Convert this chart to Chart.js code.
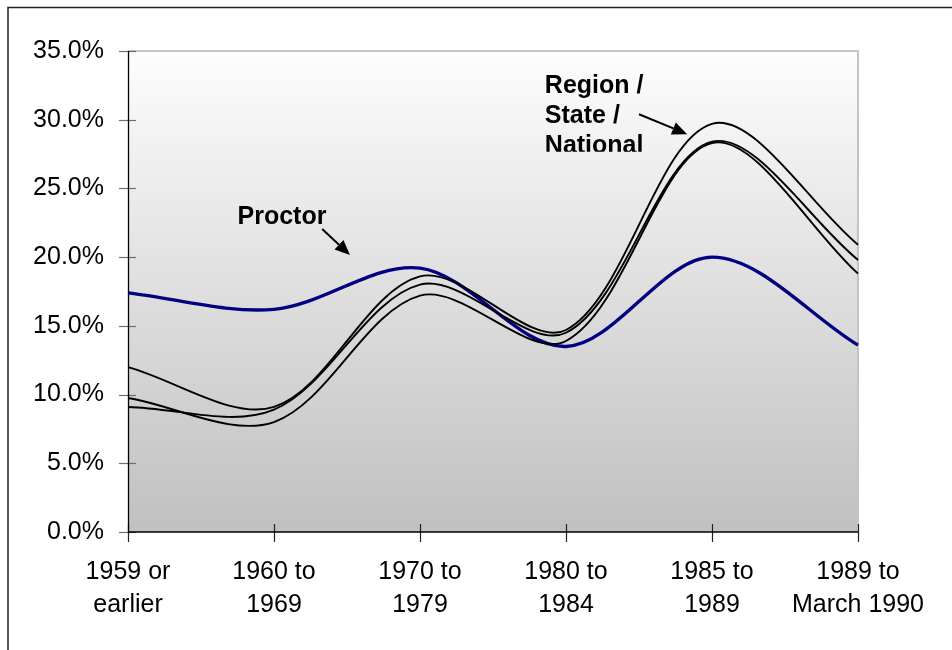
<!DOCTYPE html>
<html>
<head>
<meta charset="utf-8">
<script src="https://cdn.jsdelivr.net/npm/chart.js@4/dist/chart.umd.min.js"></script>
<style>
  html, body { margin: 0; padding: 0; background: #fff; }
  #wrap { width: 952px; height: 650px; position: relative; overflow: hidden; }
</style>
</head>
<body>
<div id="wrap"><canvas id="c" width="952" height="650"></canvas></div>
<script>
// Share of housing units by year built
const categories = [
  ['1959 or', 'earlier'],
  ['1960 to', '1969'],
  ['1970 to', '1979'],
  ['1980 to', '1984'],
  ['1985 to', '1989'],
  ['1989 to', 'March 1990']
];
const proctor  = [17.4, 16.2, 19.2, 13.5, 20.0, 13.6];
const region   = [12.0, 9.1, 18.6, 14.7, 29.7, 20.9];
const state    = [9.1, 8.9, 18.0, 14.5, 28.4, 19.8];
const national = [9.75, 8.0, 17.2, 13.9, 28.3, 18.8];
const yTicks   = [0, 5, 10, 15, 20, 25, 30, 35];
const proctorLabel = 'Proctor';
const groupLabel = ['Region /', 'State /', 'National'];

const FONT = '"Liberation Sans", Arial, Helvetica, sans-serif';

function drawArrow(ctx, x1, y1, x2, y2, head, half) {
  const ang = Math.atan2(y2 - y1, x2 - x1);
  const bx = x2 - head * Math.cos(ang), by = y2 - head * Math.sin(ang);
  ctx.beginPath();
  ctx.moveTo(x1, y1);
  ctx.lineTo(bx, by);
  ctx.stroke();
  ctx.beginPath();
  ctx.moveTo(x2, y2);
  ctx.lineTo(bx + half * Math.sin(ang), by - half * Math.cos(ang));
  ctx.lineTo(bx - half * Math.sin(ang), by + half * Math.cos(ang));
  ctx.closePath();
  ctx.fill();
}

// Page frame, shaded plot area, axes with cross tick marks
const frame = {
  id: 'frame',
  beforeDraw(chart) {
    const { ctx, chartArea: a } = chart;
    ctx.save();
    ctx.fillStyle = '#fff';
    ctx.fillRect(0, 0, chart.width, chart.height);
    const g = ctx.createLinearGradient(0, a.top, 0, a.bottom);
    g.addColorStop(0, '#fdfdfd');
    g.addColorStop(1, '#c0c0c0');
    ctx.fillStyle = g;
    ctx.fillRect(a.left, a.top, a.right - a.left, a.bottom - a.top);
    // outer frame (top and left edges visible)
    ctx.strokeStyle = '#222';
    ctx.lineWidth = 1.5;
    ctx.beginPath();
    ctx.moveTo(8, chart.height + 2);
    ctx.lineTo(8, 7.5);
    ctx.lineTo(chart.width + 2, 7.5);
    ctx.stroke();
    ctx.restore();
  },
  beforeDatasetsDraw(chart) {
    const { ctx, chartArea: a, scales: { x, y } } = chart;
    ctx.save();
    // light plot border on top and right
    ctx.strokeStyle = '#c4c4c4';
    ctx.lineWidth = 2;
    ctx.beginPath();
    ctx.moveTo(a.left, a.top);
    ctx.lineTo(a.right, a.top);
    ctx.lineTo(a.right, a.bottom);
    ctx.stroke();
    // y ticks
    ctx.strokeStyle = '#6e6e6e';
    ctx.lineWidth = 1.2;
    yTicks.forEach(v => {
      const py = Math.round(y.getPixelForValue(v)) + 0.5;
      ctx.beginPath();
      ctx.moveTo(a.left - 9, py);
      ctx.lineTo(a.left + 8, py);
      ctx.stroke();
    });
    // x ticks
    ctx.strokeStyle = '#222';
    categories.forEach((c, i) => {
      const px = Math.round(x.getPixelForValue(i)) + 0.5;
      ctx.beginPath();
      ctx.moveTo(px, a.bottom - 8);
      ctx.lineTo(px, a.bottom + 10);
      ctx.stroke();
    });
    // axis lines
    ctx.strokeStyle = '#000';
    ctx.lineWidth = 1.3;
    ctx.beginPath();
    ctx.moveTo(a.left + 0.5, a.top);
    ctx.lineTo(a.left + 0.5, a.bottom);
    ctx.lineTo(a.right, a.bottom);
    ctx.stroke();
    ctx.restore();
  },
  afterDatasetsDraw(chart) {
    const { ctx, scales: { x, y } } = chart;
    ctx.save();
    ctx.fillStyle = '#000';
    ctx.strokeStyle = '#000';
    ctx.lineWidth = 2;
    ctx.font = 'bold 25px ' + FONT;
    ctx.textBaseline = 'alphabetic';
    ctx.textAlign = 'left';
    ctx.fillText(proctorLabel, x.getPixelForValue(0.75), y.getPixelForValue(22.4));

    const left = x.getPixelForValue(2.855);
    const base = y.getPixelForValue(31.94);
    ctx.save();
    ctx.beginPath();
    ctx.rect(left - 4, 0, 170, y.getPixelForValue(27.66));
    ctx.clip();
    groupLabel.forEach((t, i) => ctx.fillText(t, left, base + i * 30));
    ctx.restore();

    drawArrow(ctx, x.getPixelForValue(1.33), y.getPixelForValue(22.05),
              x.getPixelForValue(1.52), y.getPixelForValue(20.15), 15, 6.5);
    drawArrow(ctx, x.getPixelForValue(3.5), y.getPixelForValue(30.4),
              x.getPixelForValue(3.83), y.getPixelForValue(28.95), 15, 6.5);
    ctx.restore();
  }
};

const line = (label, data, color, width, order) => ({
  label, data,
  borderColor: color,
  backgroundColor: color,
  borderWidth: width,
  pointRadius: 0,
  pointHoverRadius: 0,
  fill: false,
  tension: 0.33,
  order
});

new Chart(document.getElementById('c'), {
  type: 'line',
  data: {
    labels: categories,
    datasets: [
      line('Region', region, '#000', 1.9, 0),
      line('State', state, '#000', 1.9, 0),
      line('National', national, '#000', 1.9, 0),
      line('Proctor', proctor, '#000080', 3.4, 1)
    ]
  },
  options: {
    responsive: false,
    animation: false,
    devicePixelRatio: 1,
    layout: { padding: { top: 51, right: 94, left: 0, bottom: 0 } },
    plugins: { legend: { display: false }, tooltip: { enabled: false } },
    events: [],
    scales: {
      x: {
        type: 'category',
        offset: false,
        grid: { display: false, drawTicks: false },
        border: { display: false },
        ticks: {
          color: '#000',
          font: { family: FONT, size: 25, lineHeight: 1.34 },
          padding: 23,
          maxRotation: 0,
          minRotation: 0,
          autoSkip: false
        },
        afterFit(s) { s.height = 118; }
      },
      y: {
        min: 0,
        max: 35,
        grid: { display: false, drawTicks: false },
        border: { display: false },
        afterBuildTicks(s) { s.ticks = yTicks.map(v => ({ value: v })); },
        ticks: {
          color: '#000',
          font: { family: FONT, size: 25 },
          padding: 24,
          callback: v => v.toFixed(1) + '%'
        },
        afterFit(s) { s.width = 128; }
      }
    }
  },
  plugins: [frame]
});
</script>
</body>
</html>
